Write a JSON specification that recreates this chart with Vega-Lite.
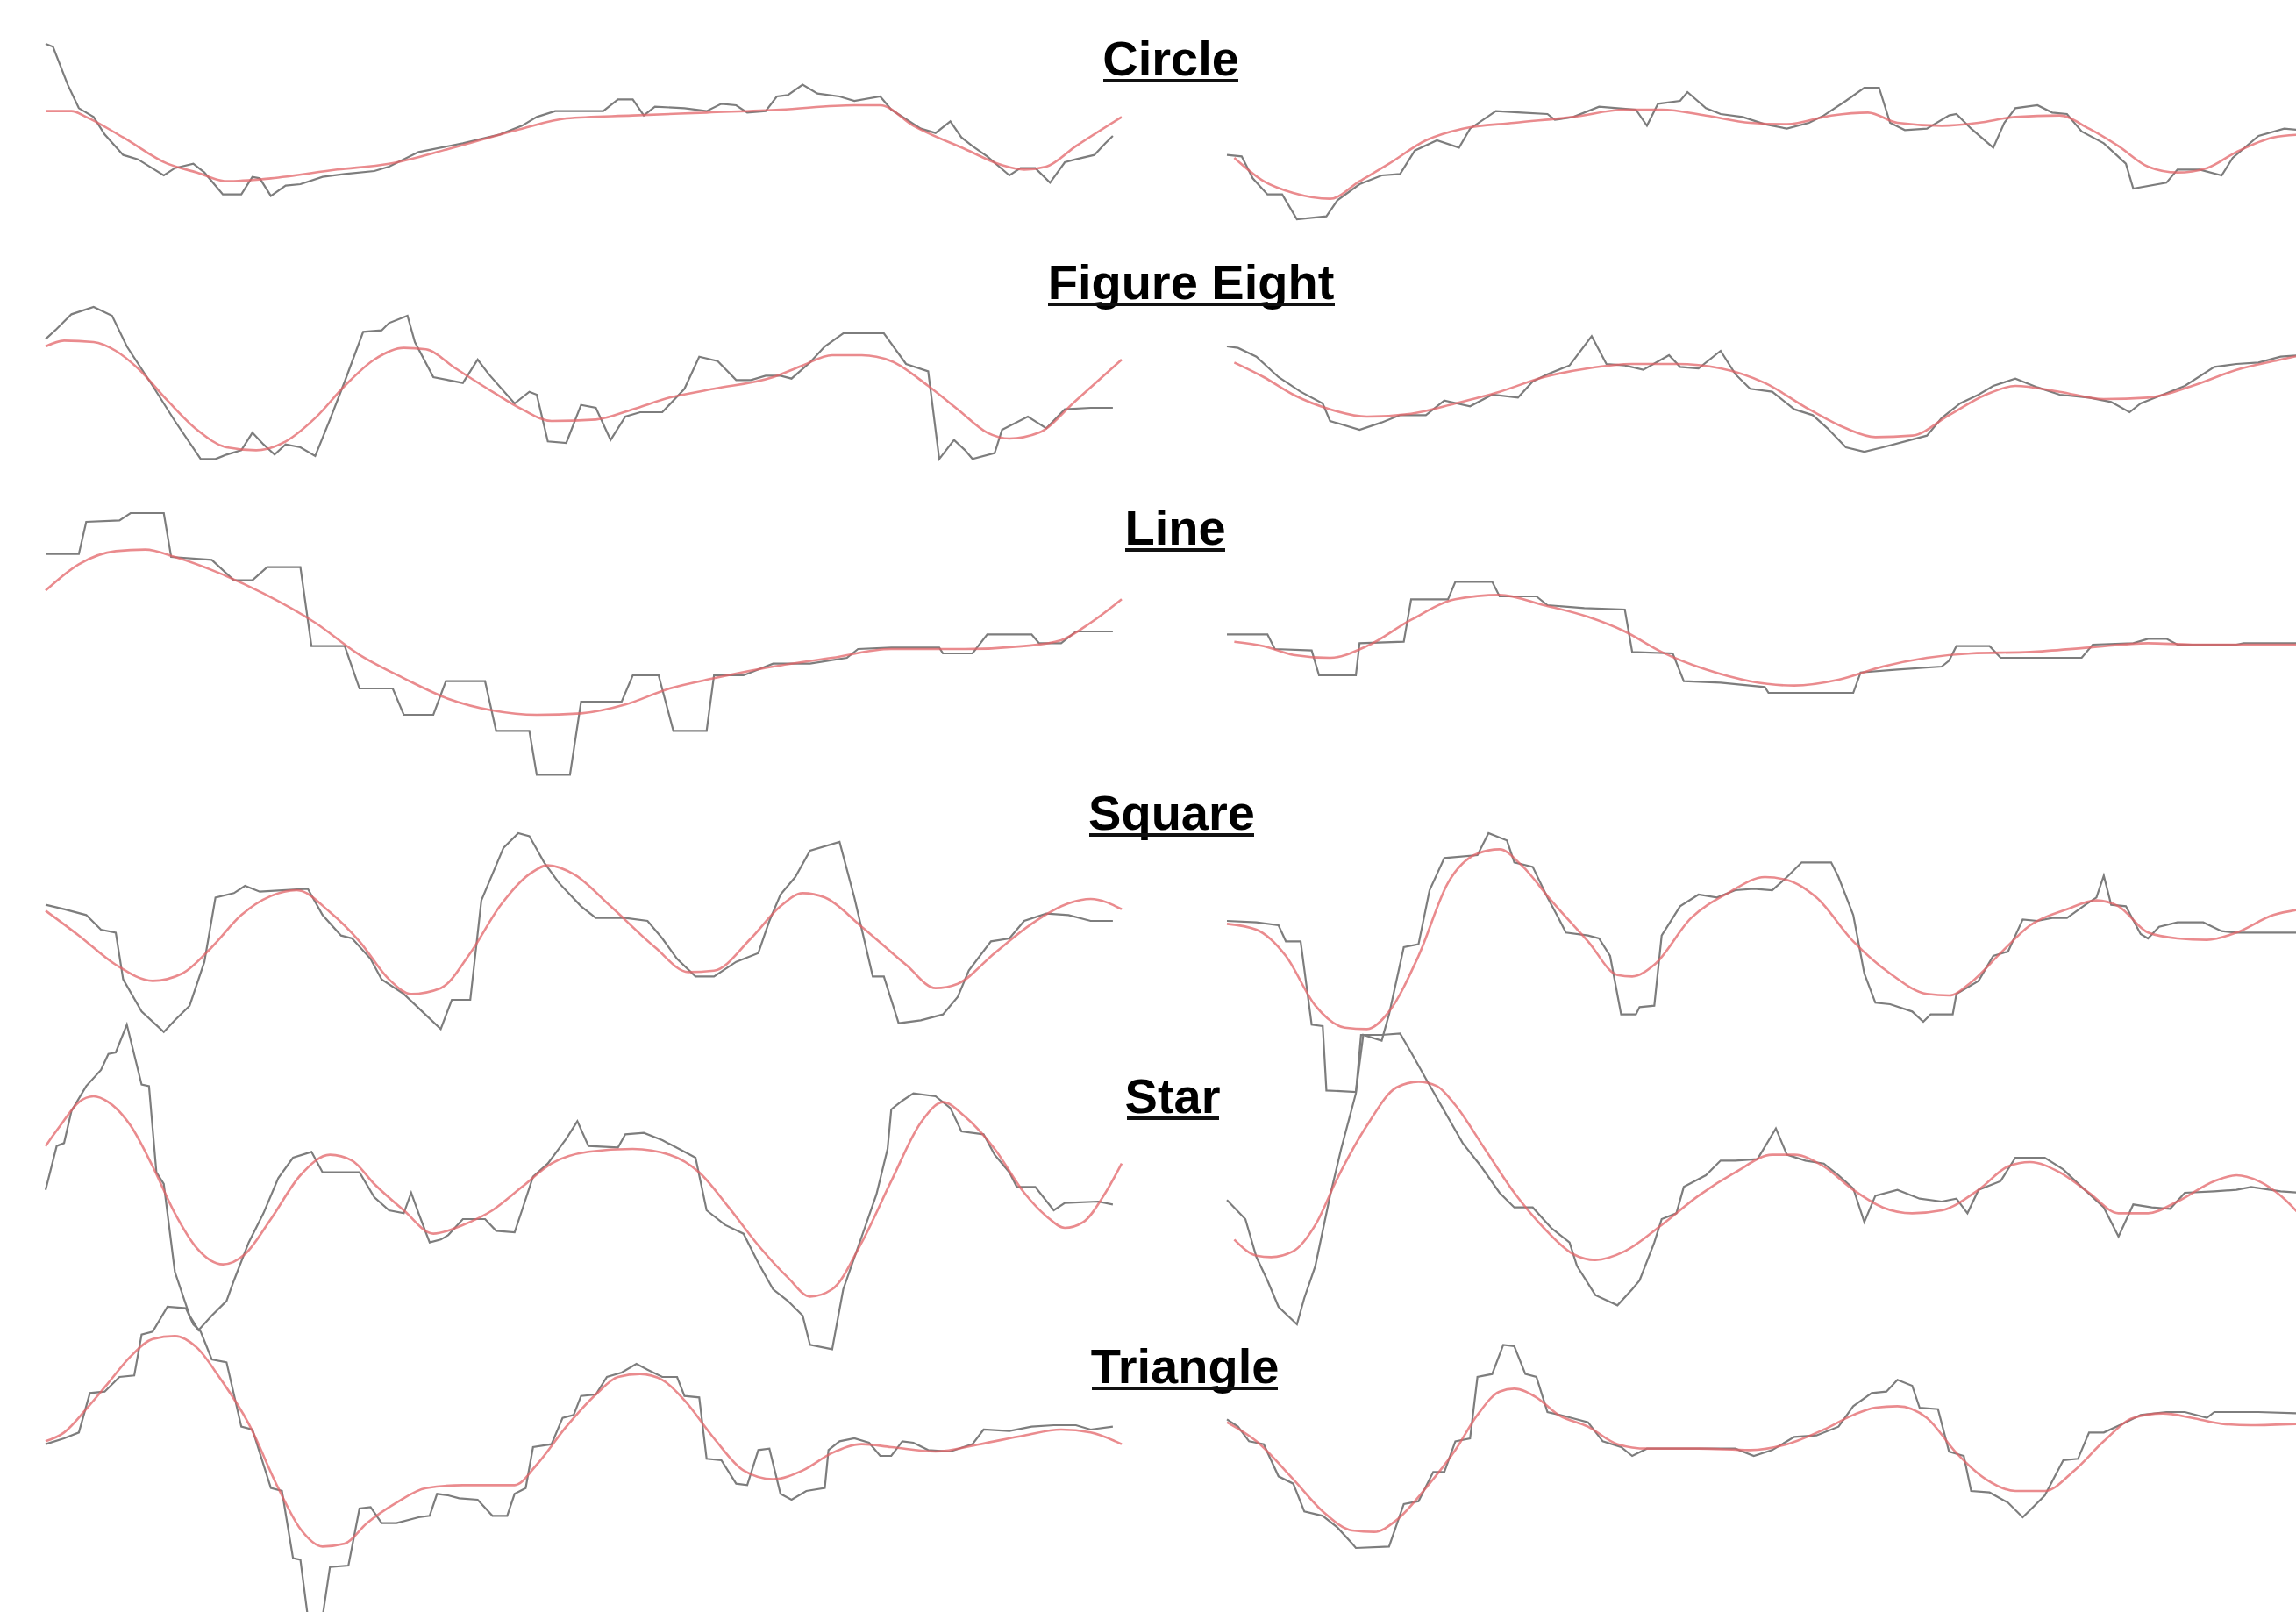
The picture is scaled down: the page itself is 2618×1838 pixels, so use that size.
{
"$schema": "https://vega.github.io/schema/vega-lite/v6.json",
"background": "#ffffff",
"padding": {"left": 46, "top": 32, "right": 0, "bottom": 0},
"bounds": "flush",
"align": "each",
"spacing": 0,
"columns": 3,
"config": {"view": {"stroke": null}, "font": "Liberation Sans"},
"datasets": {
"circle_left_raw": [{"t":0,"v":300},{"t":10,"v":290},{"t":30,"v":160},{"t":45,"v":80},{"t":65,"v":50},{"t":80,"v":-10},{"t":105,"v":-80},{"t":125,"v":-95},{"t":160,"v":-150},{"t":175,"v":-125},{"t":200,"v":-110},{"t":215,"v":-140},{"t":240,"v":-215},{"t":265,"v":-215},{"t":280,"v":-155},{"t":290,"v":-160},{"t":305,"v":-220},{"t":325,"v":-185},{"t":345,"v":-180},{"t":375,"v":-155},{"t":405,"v":-145},{"t":445,"v":-135},{"t":465,"v":-120},{"t":505,"v":-70},{"t":565,"v":-40},{"t":615,"v":-10},{"t":645,"v":20},{"t":665,"v":50},{"t":690,"v":70},{"t":755,"v":70},{"t":775,"v":110},{"t":795,"v":110},{"t":810,"v":55},{"t":825,"v":85},{"t":865,"v":80},{"t":895,"v":70},{"t":915,"v":95},{"t":935,"v":90},{"t":950,"v":65},{"t":975,"v":70},{"t":990,"v":120},{"t":1005,"v":125},{"t":1025,"v":160},{"t":1045,"v":130},{"t":1075,"v":120},{"t":1095,"v":105},{"t":1130,"v":120},{"t":1145,"v":75},{"t":1185,"v":10},{"t":1205,"v":-5},{"t":1225,"v":35},{"t":1240,"v":-20},{"t":1255,"v":-50},{"t":1275,"v":-85},{"t":1305,"v":-150},{"t":1320,"v":-125},{"t":1340,"v":-125},{"t":1360,"v":-175},{"t":1380,"v":-105},{"t":1395,"v":-95},{"t":1420,"v":-80},{"t":1435,"v":-40},{"t":1445,"v":-15}],
"circle_left_fit": [{"t":0,"v":70},{"t":35,"v":70},{"t":55,"v":50},{"t":105,"v":-20},{"t":165,"v":-110},{"t":205,"v":-140},{"t":245,"v":-170},{"t":305,"v":-160},{"t":395,"v":-130},{"t":465,"v":-110},{"t":545,"v":-60},{"t":645,"v":10},{"t":705,"v":45},{"t":795,"v":55},{"t":895,"v":65},{"t":995,"v":75},{"t":1095,"v":90},{"t":1130,"v":90},{"t":1175,"v":20},{"t":1245,"v":-60},{"t":1295,"v":-115},{"t":1325,"v":-130},{"t":1355,"v":-120},{"t":1395,"v":-50},{"t":1457,"v":50}],
"circle_right_raw": [{"t":0,"v":-80},{"t":20,"v":-85},{"t":35,"v":-160},{"t":55,"v":-215},{"t":75,"v":-215},{"t":95,"v":-300},{"t":135,"v":-290},{"t":150,"v":-235},{"t":180,"v":-180},{"t":210,"v":-150},{"t":235,"v":-145},{"t":255,"v":-65},{"t":285,"v":-30},{"t":315,"v":-55},{"t":330,"v":10},{"t":365,"v":70},{"t":400,"v":65},{"t":435,"v":60},{"t":445,"v":40},{"t":470,"v":50},{"t":505,"v":85},{"t":530,"v":80},{"t":555,"v":75},{"t":570,"v":20},{"t":585,"v":95},{"t":615,"v":105},{"t":625,"v":135},{"t":650,"v":80},{"t":670,"v":60},{"t":700,"v":50},{"t":730,"v":25},{"t":760,"v":10},{"t":790,"v":30},{"t":810,"v":55},{"t":840,"v":105},{"t":865,"v":150},{"t":885,"v":150},{"t":900,"v":30},{"t":920,"v":5},{"t":950,"v":10},{"t":980,"v":55},{"t":990,"v":60},{"t":1010,"v":10},{"t":1040,"v":-55},{"t":1055,"v":30},{"t":1070,"v":80},{"t":1100,"v":90},{"t":1120,"v":65},{"t":1140,"v":60},{"t":1160,"v":0},{"t":1190,"v":-40},{"t":1220,"v":-110},{"t":1230,"v":-195},{"t":1275,"v":-175},{"t":1290,"v":-130},{"t":1320,"v":-130},{"t":1350,"v":-150},{"t":1365,"v":-90},{"t":1400,"v":-15},{"t":1435,"v":10},{"t":1458,"v":5}],
"circle_right_fit": [{"t":10,"v":-90},{"t":50,"v":-170},{"t":90,"v":-210},{"t":140,"v":-230},{"t":180,"v":-170},{"t":220,"v":-110},{"t":270,"v":-30},{"t":320,"v":10},{"t":390,"v":30},{"t":470,"v":50},{"t":540,"v":75},{"t":590,"v":75},{"t":650,"v":55},{"t":710,"v":30},{"t":760,"v":25},{"t":820,"v":55},{"t":870,"v":65},{"t":910,"v":30},{"t":970,"v":20},{"t":1020,"v":30},{"t":1070,"v":50},{"t":1130,"v":55},{"t":1170,"v":10},{"t":1210,"v":-50},{"t":1250,"v":-120},{"t":1290,"v":-140},{"t":1330,"v":-125},{"t":1370,"v":-70},{"t":1420,"v":-20},{"t":1458,"v":-10}],
"fig8_left_raw": [{"t":0,"v":160},{"t":15,"v":195},{"t":35,"v":245},{"t":65,"v":270},{"t":90,"v":240},{"t":110,"v":135},{"t":145,"v":0},{"t":175,"v":-120},{"t":210,"v":-250},{"t":230,"v":-250},{"t":245,"v":-235},{"t":265,"v":-220},{"t":280,"v":-160},{"t":295,"v":-200},{"t":310,"v":-235},{"t":325,"v":-200},{"t":345,"v":-210},{"t":365,"v":-240},{"t":385,"v":-115},{"t":405,"v":15},{"t":430,"v":185},{"t":455,"v":190},{"t":465,"v":215},{"t":490,"v":240},{"t":500,"v":150},{"t":525,"v":30},{"t":545,"v":20},{"t":565,"v":10},{"t":585,"v":90},{"t":600,"v":40},{"t":635,"v":-60},{"t":655,"v":-20},{"t":665,"v":-30},{"t":680,"v":-190},{"t":705,"v":-195},{"t":725,"v":-65},{"t":745,"v":-75},{"t":765,"v":-185},{"t":785,"v":-105},{"t":805,"v":-90},{"t":835,"v":-90},{"t":865,"v":-10},{"t":885,"v":100},{"t":910,"v":85},{"t":935,"v":20},{"t":955,"v":20},{"t":975,"v":35},{"t":995,"v":35},{"t":1010,"v":25},{"t":1035,"v":80},{"t":1055,"v":135},{"t":1080,"v":180},{"t":1135,"v":180},{"t":1165,"v":75},{"t":1195,"v":50},{"t":1210,"v":-250},{"t":1230,"v":-185},{"t":1245,"v":-220},{"t":1255,"v":-250},{"t":1285,"v":-230},{"t":1295,"v":-150},{"t":1330,"v":-105},{"t":1355,"v":-145},{"t":1380,"v":-80},{"t":1415,"v":-75},{"t":1445,"v":-75}],
"fig8_left_fit": [{"t":0,"v":135},{"t":25,"v":155},{"t":65,"v":150},{"t":95,"v":120},{"t":125,"v":60},{"t":165,"v":-50},{"t":205,"v":-150},{"t":245,"v":-210},{"t":285,"v":-220},{"t":325,"v":-190},{"t":365,"v":-110},{"t":405,"v":0},{"t":445,"v":90},{"t":485,"v":130},{"t":515,"v":125},{"t":555,"v":60},{"t":605,"v":-20},{"t":645,"v":-80},{"t":685,"v":-120},{"t":745,"v":-115},{"t":795,"v":-80},{"t":845,"v":-40},{"t":905,"v":-10},{"t":985,"v":30},{"t":1025,"v":70},{"t":1065,"v":105},{"t":1105,"v":105},{"t":1145,"v":85},{"t":1195,"v":0},{"t":1235,"v":-80},{"t":1275,"v":-160},{"t":1305,"v":-180},{"t":1345,"v":-160},{"t":1395,"v":-50},{"t":1457,"v":90}],
"fig8_right_raw": [{"t":0,"v":135},{"t":15,"v":130},{"t":40,"v":100},{"t":70,"v":30},{"t":100,"v":-20},{"t":130,"v":-60},{"t":140,"v":-120},{"t":180,"v":-150},{"t":210,"v":-125},{"t":235,"v":-100},{"t":270,"v":-100},{"t":295,"v":-50},{"t":330,"v":-70},{"t":360,"v":-30},{"t":395,"v":-40},{"t":415,"v":15},{"t":435,"v":40},{"t":465,"v":70},{"t":495,"v":170},{"t":515,"v":75},{"t":540,"v":70},{"t":565,"v":55},{"t":600,"v":105},{"t":615,"v":65},{"t":640,"v":60},{"t":670,"v":120},{"t":690,"v":40},{"t":710,"v":-10},{"t":740,"v":-20},{"t":770,"v":-80},{"t":795,"v":-100},{"t":815,"v":-145},{"t":840,"v":-210},{"t":865,"v":-225},{"t":890,"v":-210},{"t":950,"v":-170},{"t":970,"v":-110},{"t":995,"v":-60},{"t":1020,"v":-30},{"t":1040,"v":0},{"t":1070,"v":25},{"t":1100,"v":-5},{"t":1130,"v":-30},{"t":1170,"v":-40},{"t":1200,"v":-55},{"t":1225,"v":-90},{"t":1240,"v":-60},{"t":1270,"v":-30},{"t":1300,"v":0},{"t":1340,"v":65},{"t":1370,"v":75},{"t":1400,"v":80},{"t":1430,"v":100},{"t":1458,"v":105}],
"fig8_right_fit": [{"t":10,"v":80},{"t":50,"v":30},{"t":90,"v":-30},{"t":140,"v":-80},{"t":190,"v":-105},{"t":250,"v":-95},{"t":310,"v":-60},{"t":370,"v":-20},{"t":430,"v":30},{"t":490,"v":60},{"t":550,"v":75},{"t":610,"v":75},{"t":670,"v":60},{"t":730,"v":10},{"t":790,"v":-80},{"t":840,"v":-145},{"t":880,"v":-175},{"t":930,"v":-170},{"t":980,"v":-100},{"t":1030,"v":-30},{"t":1070,"v":0},{"t":1130,"v":-20},{"t":1190,"v":-45},{"t":1250,"v":-40},{"t":1310,"v":0},{"t":1370,"v":55},{"t":1430,"v":90},{"t":1458,"v":105}],
"line_left_raw": [{"t":0,"v":285},{"t":45,"v":285},{"t":55,"v":395},{"t":100,"v":400},{"t":115,"v":425},{"t":160,"v":425},{"t":170,"v":275},{"t":225,"v":265},{"t":255,"v":195},{"t":280,"v":195},{"t":300,"v":240},{"t":345,"v":240},{"t":360,"v":-30},{"t":405,"v":-30},{"t":425,"v":-175},{"t":470,"v":-175},{"t":485,"v":-265},{"t":525,"v":-265},{"t":542,"v":-150},{"t":595,"v":-150},{"t":610,"v":-320},{"t":655,"v":-320},{"t":665,"v":-470},{"t":710,"v":-470},{"t":725,"v":-220},{"t":780,"v":-220},{"t":795,"v":-130},{"t":830,"v":-130},{"t":850,"v":-320},{"t":895,"v":-320},{"t":905,"v":-130},{"t":945,"v":-130},{"t":985,"v":-90},{"t":1035,"v":-90},{"t":1085,"v":-70},{"t":1100,"v":-40},{"t":1145,"v":-35},{"t":1210,"v":-35},{"t":1215,"v":-55},{"t":1255,"v":-55},{"t":1275,"v":10},{"t":1335,"v":10},{"t":1345,"v":-20},{"t":1375,"v":-20},{"t":1395,"v":20},{"t":1445,"v":20}],
"line_left_fit": [{"t":0,"v":160},{"t":45,"v":250},{"t":95,"v":295},{"t":135,"v":300},{"t":175,"v":275},{"t":235,"v":220},{"t":295,"v":150},{"t":365,"v":50},{"t":425,"v":-60},{"t":485,"v":-140},{"t":545,"v":-210},{"t":605,"v":-250},{"t":665,"v":-265},{"t":725,"v":-260},{"t":785,"v":-230},{"t":845,"v":-175},{"t":905,"v":-140},{"t":985,"v":-100},{"t":1065,"v":-70},{"t":1145,"v":-40},{"t":1245,"v":-40},{"t":1325,"v":-30},{"t":1375,"v":-10},{"t":1415,"v":50},{"t":1457,"v":130}],
"line_right_raw": [{"t":0,"v":10},{"t":55,"v":10},{"t":65,"v":-40},{"t":115,"v":-45},{"t":125,"v":-130},{"t":175,"v":-130},{"t":180,"v":-20},{"t":240,"v":-15},{"t":250,"v":130},{"t":300,"v":130},{"t":310,"v":190},{"t":360,"v":190},{"t":370,"v":140},{"t":420,"v":140},{"t":435,"v":110},{"t":485,"v":100},{"t":540,"v":95},{"t":550,"v":-50},{"t":605,"v":-55},{"t":620,"v":-150},{"t":670,"v":-155},{"t":730,"v":-170},{"t":735,"v":-190},{"t":850,"v":-190},{"t":860,"v":-120},{"t":910,"v":-110},{"t":970,"v":-100},{"t":980,"v":-80},{"t":990,"v":-30},{"t":1035,"v":-30},{"t":1050,"v":-70},{"t":1160,"v":-70},{"t":1175,"v":-25},{"t":1230,"v":-20},{"t":1250,"v":-5},{"t":1275,"v":-5},{"t":1290,"v":-25},{"t":1370,"v":-25},{"t":1380,"v":-20},{"t":1458,"v":-20}],
"line_right_fit": [{"t":10,"v":-15},{"t":50,"v":-30},{"t":90,"v":-60},{"t":140,"v":-70},{"t":190,"v":-30},{"t":250,"v":60},{"t":310,"v":130},{"t":370,"v":145},{"t":430,"v":110},{"t":490,"v":70},{"t":540,"v":20},{"t":590,"v":-50},{"t":650,"v":-110},{"t":710,"v":-150},{"t":770,"v":-165},{"t":830,"v":-145},{"t":890,"v":-100},{"t":950,"v":-70},{"t":1010,"v":-55},{"t":1090,"v":-50},{"t":1170,"v":-35},{"t":1250,"v":-20},{"t":1310,"v":-25},{"t":1390,"v":-25},{"t":1458,"v":-25}],
"square_left_raw": [{"t":0,"v":105},{"t":25,"v":90},{"t":55,"v":70},{"t":75,"v":20},{"t":95,"v":10},{"t":105,"v":-150},{"t":130,"v":-260},{"t":160,"v":-330},{"t":175,"v":-290},{"t":195,"v":-240},{"t":215,"v":-90},{"t":230,"v":130},{"t":255,"v":145},{"t":270,"v":170},{"t":290,"v":150},{"t":355,"v":160},{"t":375,"v":70},{"t":400,"v":0},{"t":415,"v":-10},{"t":440,"v":-80},{"t":455,"v":-150},{"t":485,"v":-200},{"t":510,"v":-260},{"t":535,"v":-320},{"t":550,"v":-220},{"t":575,"v":-220},{"t":590,"v":120},{"t":605,"v":210},{"t":620,"v":300},{"t":640,"v":350},{"t":655,"v":340},{"t":675,"v":250},{"t":695,"v":180},{"t":725,"v":100},{"t":745,"v":60},{"t":785,"v":60},{"t":815,"v":50},{"t":835,"v":-10},{"t":855,"v":-80},{"t":880,"v":-140},{"t":905,"v":-140},{"t":935,"v":-90},{"t":965,"v":-60},{"t":980,"v":50},{"t":995,"v":140},{"t":1015,"v":200},{"t":1035,"v":290},{"t":1075,"v":320},{"t":1095,"v":130},{"t":1120,"v":-140},{"t":1135,"v":-140},{"t":1155,"v":-300},{"t":1185,"v":-290},{"t":1215,"v":-270},{"t":1235,"v":-210},{"t":1250,"v":-120},{"t":1280,"v":-20},{"t":1305,"v":-10},{"t":1325,"v":50},{"t":1355,"v":75},{"t":1385,"v":70},{"t":1415,"v":50},{"t":1445,"v":50}],
"square_left_fit": [{"t":0,"v":85},{"t":45,"v":0},{"t":95,"v":-100},{"t":145,"v":-155},{"t":185,"v":-130},{"t":225,"v":-40},{"t":265,"v":70},{"t":305,"v":135},{"t":340,"v":155},{"t":385,"v":80},{"t":425,"v":-20},{"t":465,"v":-150},{"t":495,"v":-200},{"t":535,"v":-180},{"t":575,"v":-60},{"t":615,"v":100},{"t":655,"v":210},{"t":680,"v":240},{"t":715,"v":210},{"t":765,"v":100},{"t":825,"v":-40},{"t":870,"v":-125},{"t":905,"v":-120},{"t":955,"v":-10},{"t":995,"v":100},{"t":1025,"v":145},{"t":1055,"v":130},{"t":1105,"v":30},{"t":1165,"v":-100},{"t":1205,"v":-180},{"t":1235,"v":-165},{"t":1285,"v":-60},{"t":1335,"v":40},{"t":1385,"v":110},{"t":1415,"v":125},{"t":1457,"v":90}],
"square_right_raw": [{"t":0,"v":50},{"t":40,"v":45},{"t":70,"v":35},{"t":80,"v":-20},{"t":100,"v":-20},{"t":115,"v":-305},{"t":130,"v":-310},{"t":135,"v":-530},{"t":175,"v":-535},{"t":185,"v":-340},{"t":210,"v":-360},{"t":220,"v":-270},{"t":240,"v":-40},{"t":260,"v":-30},{"t":275,"v":155},{"t":295,"v":265},{"t":340,"v":275},{"t":355,"v":350},{"t":380,"v":325},{"t":390,"v":250},{"t":415,"v":235},{"t":435,"v":130},{"t":450,"v":60},{"t":460,"v":10},{"t":490,"v":0},{"t":505,"v":-10},{"t":520,"v":-70},{"t":535,"v":-270},{"t":555,"v":-270},{"t":560,"v":-245},{"t":580,"v":-240},{"t":590,"v":0},{"t":615,"v":100},{"t":640,"v":140},{"t":665,"v":130},{"t":690,"v":155},{"t":715,"v":160},{"t":740,"v":155},{"t":760,"v":200},{"t":780,"v":250},{"t":820,"v":250},{"t":830,"v":200},{"t":850,"v":70},{"t":865,"v":-130},{"t":880,"v":-230},{"t":900,"v":-235},{"t":930,"v":-260},{"t":945,"v":-295},{"t":955,"v":-270},{"t":985,"v":-270},{"t":990,"v":-200},{"t":1020,"v":-155},{"t":1040,"v":-70},{"t":1060,"v":-55},{"t":1080,"v":55},{"t":1100,"v":50},{"t":1120,"v":60},{"t":1140,"v":60},{"t":1165,"v":105},{"t":1180,"v":130},{"t":1190,"v":205},{"t":1200,"v":105},{"t":1220,"v":100},{"t":1240,"v":5},{"t":1250,"v":-10},{"t":1265,"v":30},{"t":1290,"v":45},{"t":1325,"v":45},{"t":1350,"v":15},{"t":1370,"v":10},{"t":1400,"v":10},{"t":1458,"v":10}],
"square_right_fit": [{"t":0,"v":40},{"t":40,"v":20},{"t":80,"v":-70},{"t":120,"v":-240},{"t":160,"v":-315},{"t":190,"v":-320},{"t":220,"v":-260},{"t":260,"v":-70},{"t":300,"v":180},{"t":340,"v":280},{"t":370,"v":295},{"t":400,"v":240},{"t":440,"v":120},{"t":490,"v":-20},{"t":530,"v":-135},{"t":550,"v":-140},{"t":580,"v":-100},{"t":630,"v":60},{"t":680,"v":145},{"t":730,"v":200},{"t":760,"v":190},{"t":800,"v":130},{"t":850,"v":-20},{"t":900,"v":-130},{"t":950,"v":-200},{"t":980,"v":-205},{"t":1010,"v":-160},{"t":1050,"v":-60},{"t":1090,"v":35},{"t":1140,"v":90},{"t":1180,"v":120},{"t":1210,"v":100},{"t":1250,"v":10},{"t":1290,"v":-10},{"t":1330,"v":-15},{"t":1370,"v":10},{"t":1420,"v":70},{"t":1458,"v":90}],
"star_left_raw": [{"t":0,"v":-20},{"t":15,"v":130},{"t":25,"v":140},{"t":35,"v":250},{"t":55,"v":335},{"t":75,"v":390},{"t":85,"v":445},{"t":95,"v":450},{"t":110,"v":545},{"t":130,"v":340},{"t":140,"v":335},{"t":150,"v":40},{"t":160,"v":0},{"t":175,"v":-300},{"t":195,"v":-450},{"t":207,"v":-500},{"t":225,"v":-450},{"t":245,"v":-400},{"t":255,"v":-330},{"t":275,"v":-200},{"t":295,"v":-100},{"t":315,"v":20},{"t":335,"v":90},{"t":360,"v":110},{"t":375,"v":40},{"t":425,"v":40},{"t":445,"v":-45},{"t":465,"v":-90},{"t":485,"v":-100},{"t":495,"v":-30},{"t":505,"v":-100},{"t":520,"v":-200},{"t":535,"v":-190},{"t":545,"v":-175},{"t":565,"v":-120},{"t":595,"v":-120},{"t":610,"v":-160},{"t":635,"v":-165},{"t":645,"v":-90},{"t":660,"v":25},{"t":680,"v":70},{"t":705,"v":155},{"t":720,"v":215},{"t":735,"v":130},{"t":775,"v":125},{"t":785,"v":170},{"t":810,"v":175},{"t":835,"v":150},{"t":865,"v":110},{"t":880,"v":90},{"t":895,"v":-90},{"t":920,"v":-140},{"t":945,"v":-170},{"t":965,"v":-270},{"t":985,"v":-360},{"t":1005,"v":-400},{"t":1025,"v":-450},{"t":1035,"v":-550},{"t":1065,"v":-565},{"t":1080,"v":-360},{"t":1105,"v":-180},{"t":1125,"v":-35},{"t":1140,"v":120},{"t":1145,"v":255},{"t":1160,"v":285},{"t":1175,"v":310},{"t":1205,"v":300},{"t":1225,"v":260},{"t":1240,"v":180},{"t":1270,"v":170},{"t":1285,"v":100},{"t":1305,"v":40},{"t":1315,"v":-10},{"t":1340,"v":-10},{"t":1365,"v":-90},{"t":1380,"v":-65},{"t":1425,"v":-60},{"t":1445,"v":-70}],
"star_left_fit": [{"t":0,"v":130},{"t":20,"v":200},{"t":45,"v":280},{"t":65,"v":300},{"t":85,"v":280},{"t":115,"v":200},{"t":145,"v":60},{"t":175,"v":-100},{"t":205,"v":-220},{"t":240,"v":-275},{"t":270,"v":-240},{"t":305,"v":-120},{"t":345,"v":30},{"t":385,"v":100},{"t":415,"v":80},{"t":445,"v":0},{"t":485,"v":-90},{"t":525,"v":-170},{"t":565,"v":-140},{"t":605,"v":-90},{"t":645,"v":-10},{"t":685,"v":70},{"t":735,"v":110},{"t":795,"v":120},{"t":845,"v":100},{"t":885,"v":40},{"t":925,"v":-80},{"t":965,"v":-210},{"t":1005,"v":-320},{"t":1035,"v":-385},{"t":1065,"v":-360},{"t":1105,"v":-200},{"t":1145,"v":10},{"t":1185,"v":210},{"t":1215,"v":280},{"t":1245,"v":230},{"t":1285,"v":120},{"t":1325,"v":-30},{"t":1355,"v":-110},{"t":1380,"v":-150},{"t":1405,"v":-130},{"t":1435,"v":-30},{"t":1457,"v":70}],
"star_right_raw": [{"t":0,"v":-55},{"t":25,"v":-120},{"t":40,"v":-250},{"t":55,"v":-330},{"t":70,"v":-420},{"t":95,"v":-480},{"t":105,"v":-390},{"t":120,"v":-280},{"t":140,"v":-40},{"t":155,"v":120},{"t":175,"v":310},{"t":182,"v":510},{"t":210,"v":510},{"t":235,"v":515},{"t":250,"v":450},{"t":270,"v":360},{"t":295,"v":250},{"t":320,"v":140},{"t":345,"v":60},{"t":370,"v":-30},{"t":390,"v":-80},{"t":415,"v":-80},{"t":440,"v":-150},{"t":465,"v":-200},{"t":475,"v":-280},{"t":500,"v":-380},{"t":530,"v":-415},{"t":550,"v":-360},{"t":560,"v":-330},{"t":580,"v":-200},{"t":590,"v":-120},{"t":610,"v":-100},{"t":620,"v":-10},{"t":650,"v":30},{"t":670,"v":80},{"t":690,"v":80},{"t":720,"v":85},{"t":745,"v":190},{"t":760,"v":100},{"t":785,"v":80},{"t":810,"v":70},{"t":830,"v":30},{"t":850,"v":-15},{"t":865,"v":-130},{"t":880,"v":-40},{"t":910,"v":-20},{"t":940,"v":-50},{"t":970,"v":-60},{"t":990,"v":-50},{"t":1005,"v":-100},{"t":1020,"v":-20},{"t":1050,"v":10},{"t":1070,"v":90},{"t":1110,"v":90},{"t":1135,"v":50},{"t":1160,"v":-10},{"t":1190,"v":-80},{"t":1210,"v":-180},{"t":1230,"v":-70},{"t":1255,"v":-80},{"t":1280,"v":-85},{"t":1300,"v":-30},{"t":1340,"v":-25},{"t":1370,"v":-20},{"t":1390,"v":-10},{"t":1430,"v":-25},{"t":1458,"v":-30}],
"star_right_fit": [{"t":10,"v":-190},{"t":40,"v":-245},{"t":60,"v":-250},{"t":90,"v":-230},{"t":120,"v":-140},{"t":150,"v":20},{"t":190,"v":200},{"t":230,"v":330},{"t":260,"v":350},{"t":285,"v":335},{"t":310,"v":270},{"t":350,"v":120},{"t":390,"v":-30},{"t":430,"v":-150},{"t":470,"v":-240},{"t":500,"v":-260},{"t":540,"v":-230},{"t":590,"v":-140},{"t":640,"v":-40},{"t":690,"v":40},{"t":740,"v":100},{"t":770,"v":100},{"t":810,"v":60},{"t":850,"v":-20},{"t":890,"v":-80},{"t":930,"v":-100},{"t":970,"v":-90},{"t":1020,"v":-20},{"t":1060,"v":60},{"t":1090,"v":75},{"t":1130,"v":40},{"t":1170,"v":-30},{"t":1210,"v":-100},{"t":1250,"v":-100},{"t":1290,"v":-60},{"t":1340,"v":10},{"t":1370,"v":30},{"t":1400,"v":10},{"t":1430,"v":-40},{"t":1458,"v":-110}],
"triangle_left_raw": [{"t":0,"v":-30},{"t":25,"v":-10},{"t":45,"v":10},{"t":60,"v":145},{"t":80,"v":150},{"t":100,"v":200},{"t":120,"v":205},{"t":130,"v":345},{"t":145,"v":355},{"t":165,"v":440},{"t":190,"v":435},{"t":200,"v":380},{"t":210,"v":355},{"t":225,"v":260},{"t":245,"v":250},{"t":265,"v":30},{"t":280,"v":20},{"t":305,"v":-180},{"t":320,"v":-190},{"t":335,"v":-420},{"t":345,"v":-425},{"t":355,"v":-620},{"t":375,"v":-620},{"t":385,"v":-450},{"t":410,"v":-445},{"t":425,"v":-250},{"t":440,"v":-245},{"t":455,"v":-300},{"t":475,"v":-300},{"t":505,"v":-280},{"t":520,"v":-275},{"t":530,"v":-200},{"t":545,"v":-205},{"t":560,"v":-215},{"t":585,"v":-220},{"t":605,"v":-275},{"t":625,"v":-275},{"t":635,"v":-200},{"t":650,"v":-180},{"t":660,"v":-40},{"t":685,"v":-30},{"t":700,"v":60},{"t":715,"v":70},{"t":725,"v":135},{"t":745,"v":140},{"t":760,"v":200},{"t":780,"v":215},{"t":800,"v":245},{"t":815,"v":225},{"t":835,"v":200},{"t":855,"v":200},{"t":865,"v":135},{"t":885,"v":130},{"t":895,"v":-80},{"t":915,"v":-85},{"t":935,"v":-165},{"t":950,"v":-170},{"t":965,"v":-50},{"t":980,"v":-45},{"t":995,"v":-200},{"t":1010,"v":-220},{"t":1030,"v":-190},{"t":1055,"v":-180},{"t":1060,"v":-50},{"t":1075,"v":-20},{"t":1095,"v":-10},{"t":1115,"v":-25},{"t":1130,"v":-70},{"t":1145,"v":-70},{"t":1160,"v":-20},{"t":1175,"v":-25},{"t":1195,"v":-50},{"t":1225,"v":-55},{"t":1255,"v":-30},{"t":1270,"v":20},{"t":1305,"v":15},{"t":1335,"v":30},{"t":1365,"v":35},{"t":1395,"v":35},{"t":1415,"v":20},{"t":1445,"v":30}],
"triangle_left_fit": [{"t":0,"v":-20},{"t":25,"v":10},{"t":55,"v":90},{"t":85,"v":180},{"t":115,"v":270},{"t":145,"v":330},{"t":175,"v":340},{"t":205,"v":300},{"t":235,"v":200},{"t":275,"v":40},{"t":315,"v":-180},{"t":345,"v":-320},{"t":375,"v":-380},{"t":405,"v":-370},{"t":435,"v":-300},{"t":475,"v":-230},{"t":515,"v":-180},{"t":565,"v":-170},{"t":635,"v":-170},{"t":665,"v":-100},{"t":705,"v":30},{"t":745,"v":140},{"t":775,"v":200},{"t":805,"v":210},{"t":835,"v":190},{"t":865,"v":120},{"t":905,"v":-10},{"t":945,"v":-120},{"t":985,"v":-150},{"t":1025,"v":-120},{"t":1065,"v":-60},{"t":1105,"v":-30},{"t":1145,"v":-40},{"t":1205,"v":-55},{"t":1265,"v":-30},{"t":1325,"v":0},{"t":1375,"v":20},{"t":1415,"v":10},{"t":1457,"v":-30}],
"triangle_right_raw": [{"t":0,"v":55},{"t":15,"v":30},{"t":30,"v":-20},{"t":50,"v":-30},{"t":70,"v":-140},{"t":90,"v":-165},{"t":105,"v":-260},{"t":130,"v":-275},{"t":150,"v":-315},{"t":170,"v":-370},{"t":175,"v":-385},{"t":220,"v":-380},{"t":240,"v":-235},{"t":260,"v":-225},{"t":280,"v":-125},{"t":295,"v":-125},{"t":310,"v":-20},{"t":330,"v":-10},{"t":340,"v":200},{"t":360,"v":210},{"t":375,"v":310},{"t":390,"v":305},{"t":405,"v":210},{"t":420,"v":200},{"t":435,"v":80},{"t":460,"v":65},{"t":490,"v":45},{"t":510,"v":-20},{"t":535,"v":-40},{"t":550,"v":-70},{"t":570,"v":-45},{"t":610,"v":-45},{"t":650,"v":-45},{"t":690,"v":-45},{"t":715,"v":-70},{"t":740,"v":-50},{"t":770,"v":-5},{"t":800,"v":0},{"t":830,"v":30},{"t":850,"v":100},{"t":875,"v":145},{"t":895,"v":150},{"t":910,"v":190},{"t":930,"v":170},{"t":940,"v":95},{"t":965,"v":90},{"t":980,"v":-55},{"t":1000,"v":-70},{"t":1010,"v":-190},{"t":1035,"v":-195},{"t":1060,"v":-230},{"t":1080,"v":-280},{"t":1090,"v":-255},{"t":1110,"v":-205},{"t":1135,"v":-85},{"t":1155,"v":-80},{"t":1170,"v":10},{"t":1190,"v":10},{"t":1220,"v":45},{"t":1240,"v":70},{"t":1275,"v":80},{"t":1300,"v":80},{"t":1330,"v":60},{"t":1340,"v":80},{"t":1400,"v":80},{"t":1458,"v":75}],
"triangle_right_fit": [{"t":0,"v":45},{"t":40,"v":-20},{"t":90,"v":-150},{"t":130,"v":-260},{"t":170,"v":-325},{"t":200,"v":-330},{"t":230,"v":-290},{"t":270,"v":-180},{"t":310,"v":-50},{"t":340,"v":70},{"t":370,"v":150},{"t":390,"v":160},{"t":420,"v":130},{"t":450,"v":70},{"t":490,"v":30},{"t":530,"v":-30},{"t":570,"v":-45},{"t":640,"v":-45},{"t":710,"v":-50},{"t":760,"v":-30},{"t":810,"v":20},{"t":850,"v":70},{"t":880,"v":95},{"t":910,"v":100},{"t":950,"v":60},{"t":990,"v":-60},{"t":1030,"v":-150},{"t":1070,"v":-190},{"t":1110,"v":-190},{"t":1150,"v":-120},{"t":1190,"v":-20},{"t":1230,"v":60},{"t":1270,"v":75},{"t":1310,"v":60},{"t":1350,"v":40},{"t":1390,"v":35},{"t":1458,"v":40}]
},
"concat": [
 {"width": 1227, "height": 255, "layer": [
  {"data": {"name": "circle_left_raw"}, "mark": {"type": "line", "stroke": "#7d7d7d", "strokeWidth": 2.2}, "encoding": {"x": {"field": "t", "type": "quantitative", "scale": {"domain": [0, 1457], "nice": false, "zero": false}, "axis": null}, "y": {"field": "v", "type": "quantitative", "scale": {"domain": [-411, 354], "nice": false, "zero": false}, "axis": null}}},
  {"data": {"name": "circle_left_fit"}, "mark": {"type": "line", "stroke": "#e36468", "strokeWidth": 2.6, "opacity": 0.75, "interpolate": "monotone"}, "encoding": {"x": {"field": "t", "type": "quantitative"}, "y": {"field": "v", "type": "quantitative"}}}
 ]},
 {"width": 120, "height": 255, "data": {"values": [{"label": "Circle"}]}, "layer": [
  {"mark": {"type": "text", "align": "center", "baseline": "alphabetic", "font": "Liberation Sans", "fontSize": 56, "fontWeight": "bold", "color": "#000000"}, "encoding": {"text": {"field": "label"}, "x": {"value": 56}, "y": {"value": 54}}},
  {"mark": {"type": "rule", "color": "#111111", "strokeWidth": 4}, "encoding": {"x": {"value": -21}, "x2": {"value": 133}, "y": {"value": 60}}}
 ]},
 {"width": 1225, "height": 255, "layer": [
  {"data": {"name": "circle_right_raw"}, "mark": {"type": "line", "stroke": "#7d7d7d", "strokeWidth": 2.2}, "encoding": {"x": {"field": "t", "type": "quantitative", "scale": {"domain": [0, 1458], "nice": false, "zero": false}, "axis": null}, "y": {"field": "v", "type": "quantitative", "scale": {"domain": [-411, 354], "nice": false, "zero": false}, "axis": null}}},
  {"data": {"name": "circle_right_fit"}, "mark": {"type": "line", "stroke": "#e36468", "strokeWidth": 2.6, "opacity": 0.75, "interpolate": "monotone"}, "encoding": {"x": {"field": "t", "type": "quantitative"}, "y": {"field": "v", "type": "quantitative"}}}
 ]},
 {"width": 1227, "height": 280, "layer": [
  {"data": {"name": "fig8_left_raw"}, "mark": {"type": "line", "stroke": "#7d7d7d", "strokeWidth": 2.2}, "encoding": {"x": {"field": "t", "type": "quantitative", "scale": {"domain": [0, 1457], "nice": false, "zero": false}, "axis": null}, "y": {"field": "v", "type": "quantitative", "scale": {"domain": [-381, 459], "nice": false, "zero": false}, "axis": null}}},
  {"data": {"name": "fig8_left_fit"}, "mark": {"type": "line", "stroke": "#e36468", "strokeWidth": 2.6, "opacity": 0.75, "interpolate": "monotone"}, "encoding": {"x": {"field": "t", "type": "quantitative"}, "y": {"field": "v", "type": "quantitative"}}}
 ]},
 {"width": 120, "height": 280, "data": {"values": [{"label": "Figure Eight"}]}, "layer": [
  {"mark": {"type": "text", "align": "center", "baseline": "alphabetic", "font": "Liberation Sans", "fontSize": 56, "fontWeight": "bold", "color": "#000000"}, "encoding": {"text": {"field": "label"}, "x": {"value": 79}, "y": {"value": 54}}},
  {"mark": {"type": "rule", "color": "#111111", "strokeWidth": 4}, "encoding": {"x": {"value": -84}, "x2": {"value": 243}, "y": {"value": 60}}}
 ]},
 {"width": 1225, "height": 280, "layer": [
  {"data": {"name": "fig8_right_raw"}, "mark": {"type": "line", "stroke": "#7d7d7d", "strokeWidth": 2.2}, "encoding": {"x": {"field": "t", "type": "quantitative", "scale": {"domain": [0, 1458], "nice": false, "zero": false}, "axis": null}, "y": {"field": "v", "type": "quantitative", "scale": {"domain": [-381, 459], "nice": false, "zero": false}, "axis": null}}},
  {"data": {"name": "fig8_right_fit"}, "mark": {"type": "line", "stroke": "#e36468", "strokeWidth": 2.6, "opacity": 0.75, "interpolate": "monotone"}, "encoding": {"x": {"field": "t", "type": "quantitative"}, "y": {"field": "v", "type": "quantitative"}}}
 ]},
 {"width": 1227, "height": 325, "layer": [
  {"data": {"name": "line_left_raw"}, "mark": {"type": "line", "stroke": "#7d7d7d", "strokeWidth": 2.2}, "encoding": {"x": {"field": "t", "type": "quantitative", "scale": {"domain": [0, 1457], "nice": false, "zero": false}, "axis": null}, "y": {"field": "v", "type": "quantitative", "scale": {"domain": [-496, 479], "nice": false, "zero": false}, "axis": null}}},
  {"data": {"name": "line_left_fit"}, "mark": {"type": "line", "stroke": "#e36468", "strokeWidth": 2.6, "opacity": 0.75, "interpolate": "monotone"}, "encoding": {"x": {"field": "t", "type": "quantitative"}, "y": {"field": "v", "type": "quantitative"}}}
 ]},
 {"width": 120, "height": 325, "data": {"values": [{"label": "Line"}]}, "layer": [
  {"mark": {"type": "text", "align": "center", "baseline": "alphabetic", "font": "Liberation Sans", "fontSize": 56, "fontWeight": "bold", "color": "#000000"}, "encoding": {"text": {"field": "label"}, "x": {"value": 61}, "y": {"value": 54}}},
  {"mark": {"type": "rule", "color": "#111111", "strokeWidth": 4}, "encoding": {"x": {"value": 4}, "x2": {"value": 118}, "y": {"value": 60}}}
 ]},
 {"width": 1225, "height": 325, "layer": [
  {"data": {"name": "line_right_raw"}, "mark": {"type": "line", "stroke": "#7d7d7d", "strokeWidth": 2.2}, "encoding": {"x": {"field": "t", "type": "quantitative", "scale": {"domain": [0, 1458], "nice": false, "zero": false}, "axis": null}, "y": {"field": "v", "type": "quantitative", "scale": {"domain": [-496, 479], "nice": false, "zero": false}, "axis": null}}},
  {"data": {"name": "line_right_fit"}, "mark": {"type": "line", "stroke": "#e36468", "strokeWidth": 2.6, "opacity": 0.75, "interpolate": "monotone"}, "encoding": {"x": {"field": "t", "type": "quantitative"}, "y": {"field": "v", "type": "quantitative"}}}
 ]},
 {"width": 1227, "height": 323, "layer": [
  {"data": {"name": "square_left_raw"}, "mark": {"type": "line", "stroke": "#7d7d7d", "strokeWidth": 2.2}, "encoding": {"x": {"field": "t", "type": "quantitative", "scale": {"domain": [0, 1457], "nice": false, "zero": false}, "axis": null}, "y": {"field": "v", "type": "quantitative", "scale": {"domain": [-445, 524], "nice": false, "zero": false}, "axis": null}}},
  {"data": {"name": "square_left_fit"}, "mark": {"type": "line", "stroke": "#e36468", "strokeWidth": 2.6, "opacity": 0.75, "interpolate": "monotone"}, "encoding": {"x": {"field": "t", "type": "quantitative"}, "y": {"field": "v", "type": "quantitative"}}}
 ]},
 {"width": 120, "height": 323, "data": {"values": [{"label": "Square"}]}, "layer": [
  {"mark": {"type": "text", "align": "center", "baseline": "alphabetic", "font": "Liberation Sans", "fontSize": 56, "fontWeight": "bold", "color": "#000000"}, "encoding": {"text": {"field": "label"}, "x": {"value": 57}, "y": {"value": 54}}},
  {"mark": {"type": "rule", "color": "#111111", "strokeWidth": 4}, "encoding": {"x": {"value": -37}, "x2": {"value": 151}, "y": {"value": 60}}}
 ]},
 {"width": 1225, "height": 323, "layer": [
  {"data": {"name": "square_right_raw"}, "mark": {"type": "line", "stroke": "#7d7d7d", "strokeWidth": 2.2}, "encoding": {"x": {"field": "t", "type": "quantitative", "scale": {"domain": [0, 1458], "nice": false, "zero": false}, "axis": null}, "y": {"field": "v", "type": "quantitative", "scale": {"domain": [-445, 524], "nice": false, "zero": false}, "axis": null}}},
  {"data": {"name": "square_right_fit"}, "mark": {"type": "line", "stroke": "#e36468", "strokeWidth": 2.6, "opacity": 0.75, "interpolate": "monotone"}, "encoding": {"x": {"field": "t", "type": "quantitative"}, "y": {"field": "v", "type": "quantitative"}}}
 ]},
 {"width": 1227, "height": 308, "layer": [
  {"data": {"name": "star_left_raw"}, "mark": {"type": "line", "stroke": "#7d7d7d", "strokeWidth": 2.2}, "encoding": {"x": {"field": "t", "type": "quantitative", "scale": {"domain": [0, 1457], "nice": false, "zero": false}, "axis": null}, "y": {"field": "v", "type": "quantitative", "scale": {"domain": [-519, 405], "nice": false, "zero": false}, "axis": null}}},
  {"data": {"name": "star_left_fit"}, "mark": {"type": "line", "stroke": "#e36468", "strokeWidth": 2.6, "opacity": 0.75, "interpolate": "monotone"}, "encoding": {"x": {"field": "t", "type": "quantitative"}, "y": {"field": "v", "type": "quantitative"}}}
 ]},
 {"width": 120, "height": 308, "data": {"values": [{"label": "Star"}]}, "layer": [
  {"mark": {"type": "text", "align": "center", "baseline": "alphabetic", "font": "Liberation Sans", "fontSize": 56, "fontWeight": "bold", "color": "#000000"}, "encoding": {"text": {"field": "label"}, "x": {"value": 58}, "y": {"value": 54}}},
  {"mark": {"type": "rule", "color": "#111111", "strokeWidth": 4}, "encoding": {"x": {"value": 6}, "x2": {"value": 111}, "y": {"value": 60}}}
 ]},
 {"width": 1225, "height": 308, "layer": [
  {"data": {"name": "star_right_raw"}, "mark": {"type": "line", "stroke": "#7d7d7d", "strokeWidth": 2.2}, "encoding": {"x": {"field": "t", "type": "quantitative", "scale": {"domain": [0, 1458], "nice": false, "zero": false}, "axis": null}, "y": {"field": "v", "type": "quantitative", "scale": {"domain": [-519, 405], "nice": false, "zero": false}, "axis": null}}},
  {"data": {"name": "star_right_fit"}, "mark": {"type": "line", "stroke": "#e36468", "strokeWidth": 2.6, "opacity": 0.75, "interpolate": "monotone"}, "encoding": {"x": {"field": "t", "type": "quantitative"}, "y": {"field": "v", "type": "quantitative"}}}
 ]},
 {"width": 1227, "height": 315, "layer": [
  {"data": {"name": "triangle_left_raw"}, "mark": {"type": "line", "stroke": "#7d7d7d", "strokeWidth": 2.2}, "encoding": {"x": {"field": "t", "type": "quantitative", "scale": {"domain": [0, 1457], "nice": false, "zero": false}, "axis": null}, "y": {"field": "v", "type": "quantitative", "scale": {"domain": [-604, 341], "nice": false, "zero": false}, "axis": null}}},
  {"data": {"name": "triangle_left_fit"}, "mark": {"type": "line", "stroke": "#e36468", "strokeWidth": 2.6, "opacity": 0.75, "interpolate": "monotone"}, "encoding": {"x": {"field": "t", "type": "quantitative"}, "y": {"field": "v", "type": "quantitative"}}}
 ]},
 {"width": 120, "height": 315, "data": {"values": [{"label": "Triangle"}]}, "layer": [
  {"mark": {"type": "text", "align": "center", "baseline": "alphabetic", "font": "Liberation Sans", "fontSize": 56, "fontWeight": "bold", "color": "#000000"}, "encoding": {"text": {"field": "label"}, "x": {"value": 72}, "y": {"value": 54}}},
  {"mark": {"type": "rule", "color": "#111111", "strokeWidth": 4}, "encoding": {"x": {"value": -34}, "x2": {"value": 178}, "y": {"value": 60}}}
 ]},
 {"width": 1225, "height": 315, "layer": [
  {"data": {"name": "triangle_right_raw"}, "mark": {"type": "line", "stroke": "#7d7d7d", "strokeWidth": 2.2}, "encoding": {"x": {"field": "t", "type": "quantitative", "scale": {"domain": [0, 1458], "nice": false, "zero": false}, "axis": null}, "y": {"field": "v", "type": "quantitative", "scale": {"domain": [-604, 341], "nice": false, "zero": false}, "axis": null}}},
  {"data": {"name": "triangle_right_fit"}, "mark": {"type": "line", "stroke": "#e36468", "strokeWidth": 2.6, "opacity": 0.75, "interpolate": "monotone"}, "encoding": {"x": {"field": "t", "type": "quantitative"}, "y": {"field": "v", "type": "quantitative"}}}
 ]}
]
}
